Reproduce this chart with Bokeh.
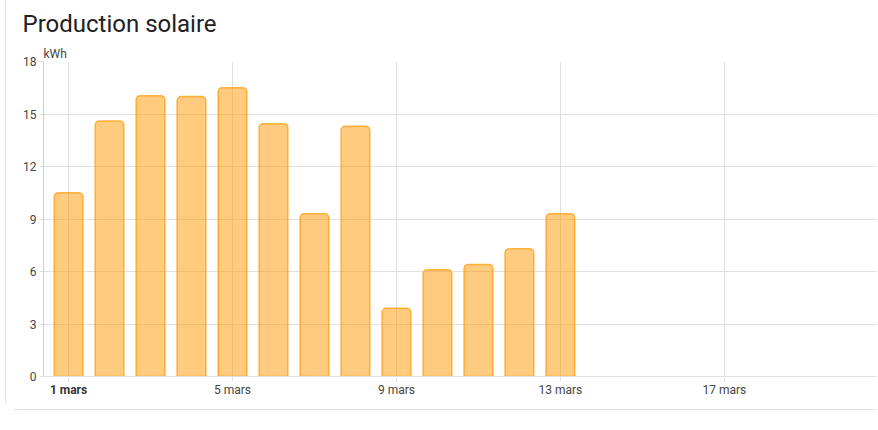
from bokeh.plotting import figure
from bokeh.models import Range1d, FixedTicker, LinearAxis, Title
from bokeh.embed import file_html
from bokeh.resources import INLINE

# ---- data ----
days = [1, 2, 3, 4, 5, 6, 7, 8, 9, 10, 11, 12, 13]
production_kwh = [10.5, 14.6, 16.05, 16.0, 16.5, 14.45, 9.3, 14.3, 3.9, 6.1, 6.4, 7.3, 9.3]
x_ticks = [1, 5, 9, 13, 17, 21]
x_tick_labels = ["1 mars", "5 mars", "9 mars", "13 mars", "17 mars", "21 mars"]
y_ticks = [0, 3, 6, 9, 12, 15, 18]
title_text = "Production solaire"
unit_text = "kWh"

FONT = "Roboto"
TXT = "#454545"
GRID = "#e0e0e0"

W, H = 872, 410
x_start, x_end = 0.39, 20.76

p = figure(width=W, height=H, output_backend="svg", toolbar_location=None, title=None,
           x_range=Range1d(x_start, x_end), y_range=Range1d(0, 18),
           min_border_left=37, min_border_right=0, min_border_top=61,
           min_border_bottom=34)
p.styles = {"border-left": "1px solid #e0e0e0", "border-bottom": "1px solid #e0e0e0",
            "border-bottom-left-radius": "12px", "margin-left": "5px"}
p.outline_line_color = None
p.background_fill_color = "white"
p.border_fill_color = "white"

p.vbar(x=days, top=production_kwh, bottom=0, width=0.7,
       fill_color="#ff9800", fill_alpha=0.5,
       line_color="#ff9800", line_alpha=0.7, line_width=1.5,
       border_radius=(4, 4, 0, 0))

# x axis (normal labels)
p.xaxis.ticker = FixedTicker(ticks=x_ticks)
overrides = {t: lab for t, lab in zip(x_ticks, x_tick_labels)}
overrides[x_ticks[0]] = ""
p.xaxis.major_label_overrides = overrides
p.xaxis.axis_line_color = GRID
p.xaxis.major_tick_line_color = GRID
p.xaxis.major_tick_out = 5
p.xaxis.major_tick_in = 0
p.xaxis.minor_tick_line_color = None
p.xaxis.major_label_standoff = 1
p.xaxis.major_label_text_font = FONT
p.xaxis.major_label_text_font_size = "12px"
p.xaxis.major_label_text_color = TXT

# second x axis carrying only the bold first-day label, pulled up into the first row
bold_axis = LinearAxis(ticker=FixedTicker(ticks=x_ticks[:1]),
                       major_label_overrides={x_ticks[0]: x_tick_labels[0]},
                       axis_line_color=None, major_tick_line_color=None,
                       minor_tick_line_color=None, major_tick_out=0, major_tick_in=0,
                       major_label_standoff=-17,
                       major_label_text_font=FONT, major_label_text_font_size="12px",
                       major_label_text_font_style="bold", major_label_text_color="#333333")
p.add_layout(bold_axis, "below")

# y axis
p.yaxis.ticker = FixedTicker(ticks=y_ticks)
p.yaxis.axis_line_color = "#cccccc"
p.yaxis.major_tick_line_color = GRID
p.yaxis.major_tick_out = 4
p.yaxis.major_tick_in = 0
p.yaxis.minor_tick_line_color = None
p.yaxis.major_label_standoff = 3
p.yaxis.major_label_text_font = FONT
p.yaxis.major_label_text_font_size = "12px"
p.yaxis.major_label_text_color = TXT

p.xgrid.ticker = FixedTicker(ticks=x_ticks)
p.xgrid.grid_line_color = GRID
p.ygrid.grid_line_color = GRID

# unit (closest to the frame) and card title (outermost)
p.add_layout(Title(text=unit_text, align="left", offset=0, standoff=2,
                   text_font=FONT, text_font_size="12px", text_font_style="normal",
                   text_color=TXT), "above")
p.add_layout(Title(text=title_text, align="left", offset=-21, standoff=12,
                   text_font=FONT, text_font_size="24px", text_font_style="normal",
                   text_color="#212121"), "above")

open("out.html", "w").write(file_html(p, INLINE))
